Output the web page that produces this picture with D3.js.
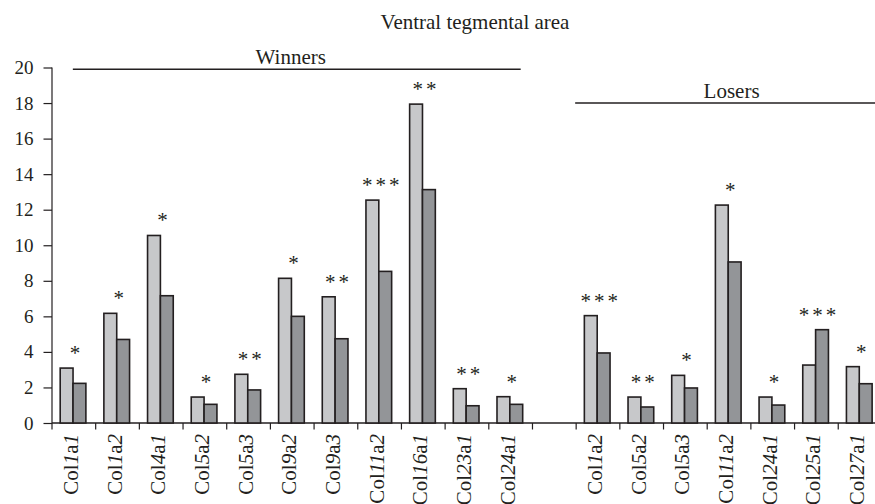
<!DOCTYPE html>
<html>
<head>
<meta charset="utf-8">
<script src="https://cdn.jsdelivr.net/npm/d3@7"></script>
<style>
  body { margin: 0; background: #fff; }
  text { font-family: "Liberation Serif", "DejaVu Serif", serif; fill: #231f20; }
</style>
</head>
<body>
<div id="chart"></div>
<script>
// values
var winnerGenes = ["Col1a1", "Col1a2", "Col4a1", "Col5a2", "Col5a3", "Col9a2", "Col9a3", "Col11a2", "Col16a1", "Col23a1", "Col24a1"];
var winnerLight = [3.09, 6.17, 10.55, 1.46, 2.74, 8.14, 7.1, 12.54, 17.94, 1.93, 1.48];
var winnerDark = [2.23, 4.7, 7.16, 1.05, 1.86, 6.0, 4.74, 8.53, 13.13, 0.97, 1.05];
var winnerStars = ["*", "*", "*", "*", "**", "*", "**", "***", "**", "**", "*"];

var loserGenes = ["Col1a2", "Col5a2", "Col5a3", "Col11a2", "Col24a1", "Col25a1", "Col27a1"];
var loserLight = [6.04, 1.46, 2.68, 12.26, 1.46, 3.26, 3.17];
var loserDark = [3.94, 0.9, 1.97, 9.06, 1.01, 5.25, 2.21];
var loserStars = ["***", "**", "*", "*", "*", "***", "*"];

var yTicks = [0, 2, 4, 6, 8, 10, 12, 14, 16, 18, 20];
var title = "Ventral tegmental area";

var width = 875,
    height = 504,
    plotLeft = 52,
    plotBottom = 423,
    plotTop = 67.5,
    slotW = 43.68;

// one slot per gene, with an empty slot between the groups
var rows = [];
winnerGenes.forEach(function(g, i) {
    rows.push({id: "W-" + g, gene: g, group: "Winners", light: winnerLight[i], dark: winnerDark[i], stars: winnerStars[i]});
});
var gapId = "gap";
loserGenes.forEach(function(g, i) {
    rows.push({id: "L-" + g, gene: g, group: "Losers", light: loserLight[i], dark: loserDark[i], stars: loserStars[i]});
});
var slots = rows.slice(0, winnerGenes.length).map(function(d) { return d.id; })
    .concat([gapId])
    .concat(rows.slice(winnerGenes.length).map(function(d) { return d.id; }));

var x = d3.scaleBand()
    .domain(slots)
    .range([plotLeft, plotLeft + slots.length * slotW])
    .paddingInner(0)
    .paddingOuter(0);

var x1 = d3.scaleBand()
    .domain(["light", "dark"])
    .range([0, x.bandwidth()])
    .paddingInner(0)
    .paddingOuter(0.7);

var y = d3.scaleLinear()
    .domain([0, 20])
    .range([plotBottom, plotTop]);

var svg = d3.select("#chart").append("svg")
    .attr("width", width)
    .attr("height", height);

svg.append("text")
    .attr("x", 475)
    .attr("y", 29)
    .attr("text-anchor", "middle")
    .attr("font-size", 21)
    .text(title);

// y axis
var yAxis = d3.axisLeft(y)
    .tickValues(yTicks)
    .tickSize(8.5)
    .tickPadding(10);
var gy = svg.append("g")
    .attr("transform", "translate(" + plotLeft + ",0)")
    .call(yAxis);
gy.attr("font-family", null);
gy.select(".domain").attr("stroke", "#231f20").attr("stroke-width", 1.2)
    .attr("d", "M0," + y(20) + "V" + y(0));
gy.selectAll(".tick line").attr("stroke", "#231f20").attr("stroke-width", 1.2);
gy.selectAll(".tick text")
    .attr("font-size", 19)
    .attr("fill", "#231f20");

// x axis: baseline plus ticks at slot boundaries
svg.append("line")
    .attr("x1", plotLeft)
    .attr("x2", width)
    .attr("y1", y(0))
    .attr("y2", y(0))
    .attr("stroke", "#231f20")
    .attr("stroke-width", 1.4);
svg.selectAll(".xtick")
    .data(slots)
    .enter().append("line")
    .attr("class", "xtick")
    .attr("x1", function(d) { return x(d); })
    .attr("x2", function(d) { return x(d); })
    .attr("y1", y(0))
    .attr("y2", y(0) + 6.5)
    .attr("stroke", "#231f20")
    .attr("stroke-width", 1.2);

// bars
var pairs = svg.selectAll(".pair")
    .data(rows)
    .enter().append("g")
    .attr("class", "pair")
    .attr("transform", function(d) { return "translate(" + (x(d.id) - 0.8) + ",0)"; });

pairs.selectAll("rect")
    .data(function(d) {
        return [{k: "light", v: d.light}, {k: "dark", v: d.dark}];
    })
    .enter().append("rect")
    .attr("x", function(d) { return x1(d.k); })
    .attr("width", x1.bandwidth())
    .attr("y", function(d) { return y(d.v); })
    .attr("height", function(d) { return y(0) - y(d.v); })
    .attr("fill", function(d) { return d.k == "light" ? "#c7c8ca" : "#939598"; })
    .attr("stroke", "#231f20")
    .attr("stroke-width", 1.6);

// significance stars
pairs.append("text")
    .attr("x", x.bandwidth() / 2 + 3.5)
    .attr("y", function(d) { return y(Math.max(d.light, d.dark)) - 8; })
    .attr("text-anchor", "middle")
    .attr("font-size", 21)
    .attr("letter-spacing", 3)
    .text(function(d) { return d.stars; });

// gene labels, rotated; numbers in italics
var labels = svg.selectAll(".gene")
    .data(rows)
    .enter().append("text")
    .attr("class", "gene")
    .attr("font-size", 21)
    .attr("text-anchor", "end")
    .attr("transform", function(d) {
        return "translate(" + (x(d.id) + x.bandwidth() / 2 + 4) + ",434) rotate(-90)";
    });
labels.each(function(d) {
    var m = d.gene.match(/^(Col)(\d+)(a)(\d+)$/);
    var t = d3.select(this);
    t.append("tspan").text(m[1]);
    t.append("tspan").attr("font-style", "italic").text(m[2]);
    t.append("tspan").text(m[3]);
    t.append("tspan").attr("font-style", "italic").text(m[4]);
});

// group brackets
var wFirst = x("W-" + winnerGenes[0]) + x.bandwidth() / 2 - 1,
    wLast = x("W-" + winnerGenes[winnerGenes.length - 1]) + x.bandwidth() * 0.73,
    lFirst = x("L-" + loserGenes[0]) - 1,
    lLast = 900;
var brackets = [
    {name: "Winners", x1: wFirst, x2: wLast, y: y(19.9)},
    {name: "Losers", x1: lFirst, x2: lLast, y: y(18.0)}
];
svg.selectAll(".bracket")
    .data(brackets)
    .enter().append("line")
    .attr("class", "bracket")
    .attr("x1", function(d) { return d.x1; })
    .attr("x2", function(d) { return d.x2; })
    .attr("y1", function(d) { return d.y; })
    .attr("y2", function(d) { return d.y; })
    .attr("stroke", "#231f20")
    .attr("stroke-width", 1.4);
svg.selectAll(".bracketLabel")
    .data(brackets)
    .enter().append("text")
    .attr("class", "bracketLabel")
    .attr("x", function(d) { return (d.x1 + d.x2) / 2 - 6; })
    .attr("y", function(d) { return d.y - 5; })
    .attr("text-anchor", "middle")
    .attr("font-size", 21)
    .text(function(d) { return d.name; });
</script>
</body>
</html>
